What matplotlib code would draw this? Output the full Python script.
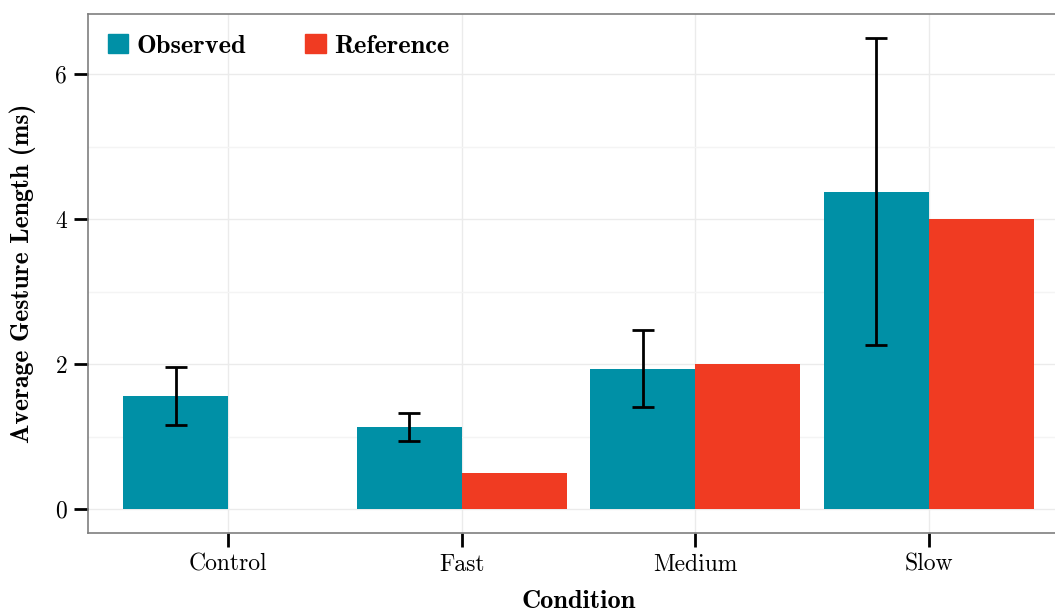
import numpy as np
import matplotlib
matplotlib.use("Agg")
import matplotlib.pyplot as plt
from matplotlib.patches import Patch
from matplotlib.ticker import MultipleLocator

# data
conditions = ["Control", "Fast", "Medium", "Slow"]
observed = [1.56, 1.13, 1.93, 4.37]
obs_low = [1.16, 0.94, 1.41, 2.26]
obs_high = [1.96, 1.32, 2.47, 6.50]
reference = [np.nan, 0.5, 2.0, 4.0]

teal = "#0090A6"
red = "#F03B22"

fig = plt.figure(figsize=(10.55, 6.12), dpi=100)
ax = fig.add_axes([88 / 1055, 1 - 533 / 612, (1069 - 88) / 1055, (533 - 14) / 612])

x = np.arange(len(conditions))
w = 0.45
ax.bar(x - w / 2, observed, width=w, color=teal, zorder=3)
ax.bar(x + w / 2, reference, width=w, color=red, zorder=3)

yerr = [np.array(observed) - np.array(obs_low), np.array(obs_high) - np.array(observed)]
ax.errorbar(x - w / 2, observed, yerr=yerr, fmt="none", ecolor="black",
            elinewidth=2.0, capsize=8, capthick=2.0, zorder=4)

ax.set_xlim(-0.6, 3.6)
ax.set_ylim(-0.33, 6.83)
ax.set_xticks(x)
ax.set_xticklabels(conditions, fontfamily="cmr10", fontsize=17)
ax.yaxis.set_major_locator(MultipleLocator(2))
ax.yaxis.set_minor_locator(MultipleLocator(1))
for lab in ax.get_yticklabels():
    lab.set_fontfamily("cmr10")
    lab.set_fontsize(17)

ax.grid(which="major", color="#EBEBEB", lw=1.0, zorder=0)
ax.grid(which="minor", axis="y", color="#F4F4F4", lw=1.0, zorder=0)
ax.tick_params(which="major", length=10, width=2.0, color="black", pad=5)
ax.tick_params(which="minor", length=0)
for s in ax.spines.values():
    s.set_color("#7F7F7F")
    s.set_linewidth(1.2)

ax.set_xlabel("Condition", fontfamily="cmb10", fontsize=19, labelpad=10)
ax.set_ylabel("Average Gesture Length (ms)", fontfamily="cmb10", fontsize=18.5, labelpad=14)

handles = [Patch(color=teal, label="Observed"), Patch(color=red, label="Reference")]
ax.legend(handles=handles, loc="upper left", ncol=2, frameon=False,
          prop={"family": "cmb10", "size": 19}, handlelength=0.78, handleheight=0.78,
          columnspacing=2.25, handletextpad=0.3, bbox_to_anchor=(-0.004, 1.008))

fig.savefig("out.png", dpi=100)
